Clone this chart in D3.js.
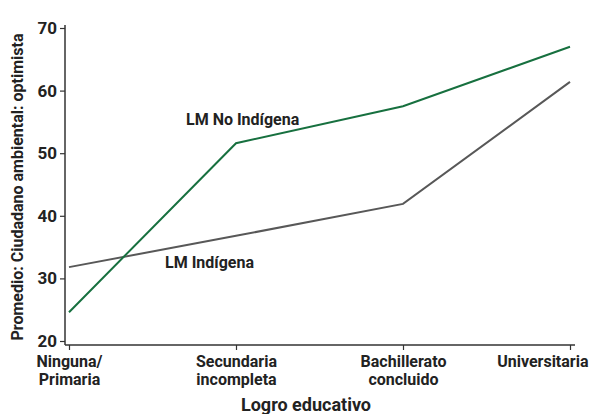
<!DOCTYPE html>
<html>
<head>
<meta charset="utf-8">
<script src="https://cdn.jsdelivr.net/npm/d3@7"></script>
<style>
  body { margin: 0; background: #fff; }
  text { font-family: Roboto, "Liberation Sans", sans-serif; font-weight: bold; fill: #222; }
</style>
</head>
<body>
<div id="chart"></div>
<script>
// categories on the x axis (two lines each)
var categories = ['Ninguna/\nPrimaria', 'Secundaria\nincompleta', 'Bachillerato\nconcluido', 'Universitaria'];
var noIndigena = [24.6, 51.6, 57.5, 67.0];   // LM No Indígena
var indigena   = [31.8, 36.8, 41.9, 61.4];   // LM Indígena
var yTicks = [20, 30, 40, 50, 60, 70];

var width = 590, height = 414;
var svg = d3.select('#chart').append('svg')
    .attr('width', width)
    .attr('height', height);

var x = d3.scalePoint().domain(categories).range([69, 570]);
var y = d3.scaleLinear().domain([20, 70]).range([341, 28]);

var axisX = 65, axisY = 345; // where the two axis lines sit

// y axis
var gy = svg.append('g').attr('transform', 'translate(' + axisX + ',0)')
    .call(d3.axisLeft(y).tickValues(yTicks).tickSize(5).tickPadding(3).tickFormat(d3.format('d')));
gy.select('.domain').remove();
gy.selectAll('.tick line').attr('stroke', '#333').attr('stroke-width', 1.2);
gy.selectAll('.tick text').style('font-size', '17px');
gy.append('line')
    .attr('x1', 0).attr('x2', 0)
    .attr('y1', y(70) - 3).attr('y2', axisY)
    .attr('stroke', '#333').attr('stroke-width', 1.5);

// x axis
var gx = svg.append('g').attr('transform', 'translate(0,' + axisY + ')')
    .call(d3.axisBottom(x).tickSize(5).tickFormat(''));
gx.select('.domain').remove();
gx.selectAll('.tick line').attr('stroke', '#333').attr('stroke-width', 1.2);
gx.append('line')
    .attr('x1', axisX).attr('x2', x(categories[3]) + 5)
    .attr('y1', 0).attr('y2', 0)
    .attr('stroke', '#333').attr('stroke-width', 1.5);

// multi-line tick labels
gx.selectAll('.tick').each(function(d, i){
    var last = i == categories.length - 1;
    var t = d3.select(this).append('text')
        .attr('y', 22)
        .attr('text-anchor', last ? 'end' : 'middle')
        .attr('x', last ? 18 : 0)
        .style('font-size', '16px');
    d.split('\n').forEach(function(line, j){
        t.append('tspan').attr('x', t.attr('x')).attr('dy', j ? 18 : 0).text(line);
    });
});

// axis titles
svg.append('text')
    .attr('x', 306).attr('y', 411)
    .attr('text-anchor', 'middle')
    .style('font-size', '18px')
    .text('Logro educativo');
svg.append('text')
    .attr('transform', 'translate(23,187) rotate(-90)')
    .attr('text-anchor', 'middle')
    .style('font-size', '16px')
    .text('Promedio: Ciudadano ambiental: optimista');

// lines
var line = d3.line()
    .x(function(d, i){ return x(categories[i]); })
    .y(function(d){ return y(d); });

svg.append('path').datum(indigena)
    .attr('d', line).attr('fill', 'none')
    .attr('stroke', '#585858').attr('stroke-width', 2);
svg.append('path').datum(noIndigena)
    .attr('d', line).attr('fill', 'none')
    .attr('stroke', '#17703f').attr('stroke-width', 2);

// series labels
svg.append('text').attr('x', 186).attr('y', 125)
    .style('font-size', '16px').text('LM No Indígena');
svg.append('text').attr('x', 165).attr('y', 268)
    .style('font-size', '16px').text('LM Indígena');
</script>
</body>
</html>
